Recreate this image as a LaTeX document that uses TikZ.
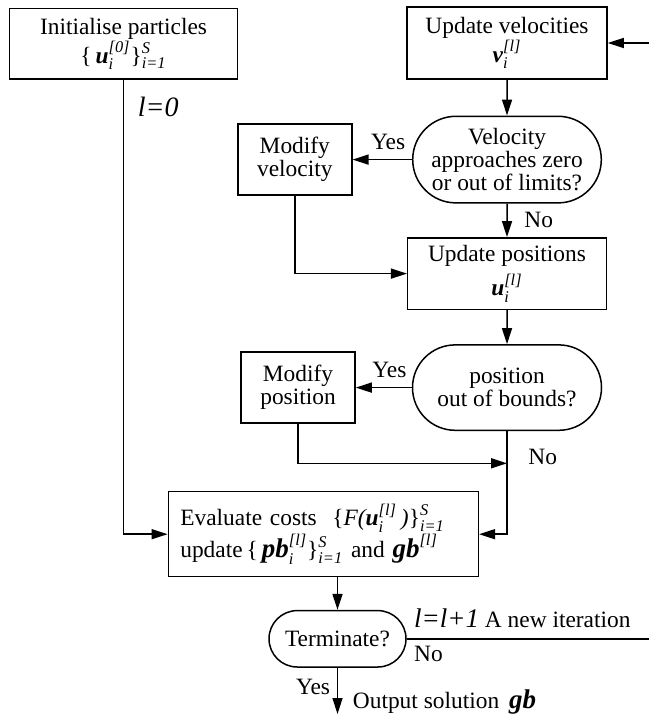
\documentclass[tikz,border=0pt]{standalone}
\usepackage{amsmath}
\usepackage{fontspec}
\setmainfont{Liberation Serif}
\usetikzlibrary{positioning,shapes.misc,arrows.meta}
\newcommand{\bvec}[1]{\textbf{\textit{#1}}}
\newcommand{\bigbv}[1]{\text{\fontsize{13.5}{14}\selectfont\bfseries\itshape #1}}
\newcommand{\itx}[1]{\textit{#1}}

\begin{document}
\begin{tikzpicture}[x=0.5pt, y=-0.5pt, node distance={17pt}, font=\fontsize{11.7}{11.5}\selectfont, line width=0.75pt,
  main/.style = {draw, rectangle, align=center, inner sep=2pt},
  term/.style = {draw, rounded rectangle, align=center, inner sep=2pt},
  arr/.style = {-{Triangle[length=8pt, width=5pt]}}]
\useasboundingbox (0,0) rectangle (648,715);

\node[main, minimum width=114.2pt, minimum height=35.4pt] (1) at (123.5,43.7) {Initialise particles\\ $\textup{\{}\,\bvec{u}^{\itx{[0]}}_{\itx{i}}\textup{\}}^{\itx{S}}_{\itx{i=1}}$};
\node[main, minimum width=100pt, minimum height=35.8pt] (2) at (507,43) {Update velocities\\ $\bvec{v}^{\itx{[l]}}_{\itx{i}}$};
\node[term, minimum width=98.3pt, minimum height=43.3pt] (3) [below=18pt of 2] {Velocity\\ approaches zero\\ or out of limits?};
\node[main, minimum width=57pt, minimum height=35.5pt] (4) [left=29.7pt of 3] {Modify\\ velocity};
\node[main, minimum width=99.3pt, minimum height=35.8pt] (5) [below=16.7pt of 3] {Update positions\\[3pt] $\bvec{u}^{\itx{[l]}}_{\itx{i}}$};
\node[term, minimum width=98.5pt, minimum height=42.7pt] (6) [below=of 5] {position\\ out of bounds?};
\node[main, minimum width=57pt, minimum height=35.5pt] (7) [left=28pt of 6] {Modify\\ position};
\node[main, minimum width=155pt, minimum height=42.5pt, text width=143pt, align=left, inner xsep=6pt] (8) at (323.3,534.2) {Evaluate costs\ \ $\textup{\{}\itx{F(}\bvec{u}^{\itx{[l]}}_{\itx{i}}\,\itx{)}\textup{\}}^{\itx{S}}_{\itx{i=1}}$\\ update$\,\textup{\{}\,\bigbv{pb}^{\itx{[l]}}_{\itx{i}}\textup{\}}^{\itx{S}}_{\itx{i=1}}$ and $\bigbv{gb}^{\itx{[l]}}$};
\node[term, minimum width=72.5pt, minimum height=28.2pt] (9) at (337.5,638.8) {Terminate?};

\coordinate (10) at (337.5,714);
\coordinate (rt) at (651,43);

\draw[arr] (2) -- (3);
\draw[arr] (3) -- node[pos=0.4, above=1pt] (y1) {Yes} (4);
\draw[arr] (3) -- node[right=5pt] (n1) {No} (5);
\draw[arr] (4.south) |- (5.west);

\draw[arr] (5) -- (6);
\draw[arr] (6) -- node[pos=0.4, above=1pt] (y2) {Yes} (7);
\draw[arr] (6.south) |- node[pos=0.125, right=7pt] (n2) {No} (8.east);
\draw[arr] (7.south) |- (6.south |- 0,463.3);

\draw[arr] (1.south) |- node[pos=0.03, right=3.5pt] (l0) {\fontsize{14}{16}\selectfont\itshape l=0} (8.west);
\draw[arr] (8.south -| 9.north) -- (9.north);

\draw[arr] (9.east) -| node[pos=0, above right, yshift=2pt] (it) {{\fontsize{13.5}{15}\selectfont\itshape l=l+1} A new iteration} node[pos=0, below right] (n3) {No} (rt) -- (2.east);
\draw[arr] (9.south) -- node[pos=0.42, left] (y3) {Yes} node[pos=0.75, right=4pt] (out) {Output solution\hspace{5pt}\bigbv{gb}} (10);

\end{tikzpicture}
\end{document}
